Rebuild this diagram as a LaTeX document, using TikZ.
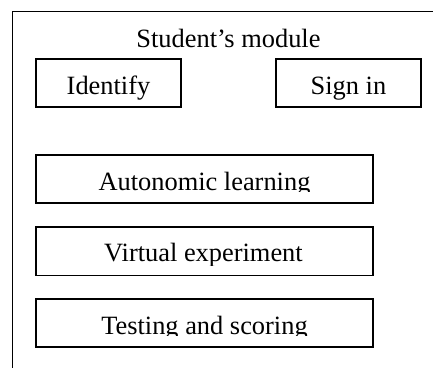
\documentclass[tikz,border=0pt]{standalone}
\usepackage{fontspec}
\setmainfont{Liberation Serif}
\begin{document}
\begin{tikzpicture}[x=1pt,y=-1pt,
  frame/.style={line width=1.5pt, line cap=rect},
  box/.style={draw, line width=1.45pt, minimum height=48pt, inner sep=0pt},
  lbl/.style={anchor=base, inner sep=0pt, font=\fontsize{26.4}{30}\selectfont}]
\useasboundingbox (0,0) rectangle (433,367);
% outer (cropped) module frame
\coordinate (fbl) at (12.5,367);
\coordinate (ftl) at (12.5,11.5);
\coordinate (ftr) at (433,11.5);
\draw[frame] (fbl) -- (ftl) -- (ftr);
\node[lbl] (title) at (228.5,47.7) {Student’s module};
% boxes
\node[box, minimum width=145pt] (ident) at (108.5,83) {};
\node[box, minimum width=145pt] (sign) at (348.5,83) {};
\node[box, minimum width=337pt] (auto) at (204.5,179) {};
\node[box, minimum width=337pt, minimum height=48.5pt] (virt) at (204.5,251.2) {};
\node[box, minimum width=337pt] (test) at (204.5,323) {};
% labels
\node[lbl] (identt) at (108.5,94.8) {Identify};
\node[lbl] (signt) at (348.5,94.8) {Sign in};
\begin{scope}
  \clip (36,155) rectangle (373,191.8);
  \node[lbl] (autot) at (204.5,190) {Autonomic learning};
\end{scope}
\begin{scope}
  \clip (36,227) rectangle (373,265.6);
  \node[lbl] (virtt) at (203.5,261.7) {Virtual experiment};
\end{scope}
\begin{scope}
  \clip (36,299) rectangle (373,335.2);
  \node[lbl] (testt) at (204.5,334.3) {Testing and scoring};
\end{scope}
\end{tikzpicture}
\end{document}
